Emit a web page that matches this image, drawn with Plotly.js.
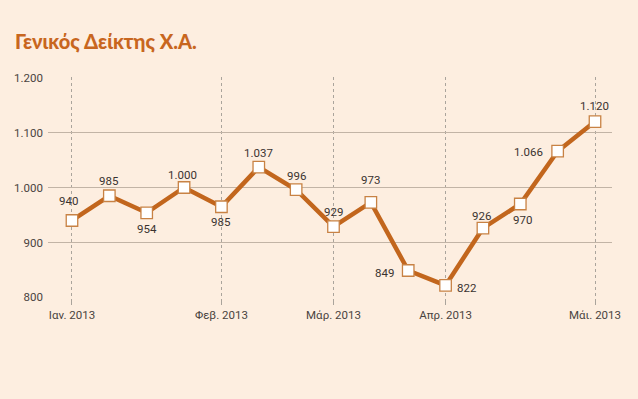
<!DOCTYPE html>
<html>
<head>
<meta charset="utf-8">
<script src="https://cdn.plot.ly/plotly-3.0.1.min.js"></script>
<style>
html,body{margin:0;padding:0;background:#fdeee0;}
#chart{width:638px;height:399px;}
</style>
</head>
<body>
<div id="chart"></div>
<script>
// Data
const values = [940, 985, 954, 1000, 965, 1037, 996, 929, 973, 849, 822, 926, 970, 1066, 1120];
const valueLabels = ["940", "985", "954", "1.000", "985", "1.037", "996", "929", "973", "849", "822", "926", "970", "1.066", "1.120"];
const tickIndex = [0, 4, 7, 10, 14];
const tickLabels = ["Ιαν. 2013", "Φεβ. 2013", "Μάρ. 2013", "Απρ. 2013", "Μάι. 2013"];
const yTicks = [800, 900, 1000, 1100, 1200];
const yTickLabels = ["800", "900", "1.000", "1.100", "1.200"];
// label placement (style only): [xanchor, xshift, yshift]
const labelPlace = [
  ['center',-3,19],['center',0,15],['center',0,-16],['center',-2,13],['center',0,-15],
  ['center',0,14],['center',0,14],['center',0,15],['center',0,22],['right',-12,-2],
  ['left',9,-3],['center',-1,12],['center',2,-16],['right',-13,-1],['center',-1,16]
];

const labelFont = 'Roboto, "DejaVu Sans Condensed", sans-serif';
const titleFont = 'Lato, Roboto, sans-serif';
const xs = values.map((v, i) => i);

const trace = {
  x: xs, y: values, type: 'scatter', mode: 'lines+markers',
  line: {color: '#c2661d', width: 4.5},
  marker: {symbol: 'square', size: 11.5, color: '#ffffff', line: {color: '#c88244', width: 1.3}},
  hoverinfo: 'skip', cliponaxis: false
};

const annotations = values.map((v, i) => ({
  x: xs[i], y: v, xref: 'x', yref: 'y', text: valueLabels[i], showarrow: false,
  xanchor: labelPlace[i][0], xshift: labelPlace[i][1], yshift: labelPlace[i][2],
  font: {family: labelFont, size: 11.5, color: '#3a3330'}
}));

const layout = {
  width: 638, height: 399,
  paper_bgcolor: '#fdeee0', plot_bgcolor: '#fdeee0',
  margin: {l: 48, r: 26, t: 77, b: 101},
  showlegend: false,
  title: {text: 'Γενικός Δείκτης Χ.Α.', x: 15/638, xanchor: 'left', xref: 'container',
          y: 1 - 42/399, yanchor: 'middle', yref: 'container',
          font: {family: titleFont, size: 20, color: '#c8661e', weight: 900}},
  xaxis: {range: [-0.642, 14.455], tickvals: tickIndex, ticktext: tickLabels,
          showgrid: true, gridcolor: '#aaa49c', griddash: '3px,3px', gridwidth: 1,
          zeroline: false, showline: false, ticks: 'outside', ticklen: 6, tickcolor: '#aaa49c',
          tickfont: {family: labelFont, size: 11.5, color: '#4a4440'}, fixedrange: true},
  yaxis: {range: [799, 1201], tickvals: yTicks, ticktext: yTickLabels,
          showgrid: true, gridcolor: '#c2b4a6', gridwidth: 1.2, zeroline: false, showline: false,
          ticks: '', ticklabelstandoff: 4,
          tickfont: {family: labelFont, size: 11.5, color: '#4a4440'}, fixedrange: true},
  annotations: annotations
};

Plotly.newPlot('chart', [trace], layout, {displayModeBar: false, staticPlot: true});
</script>
</body>
</html>
